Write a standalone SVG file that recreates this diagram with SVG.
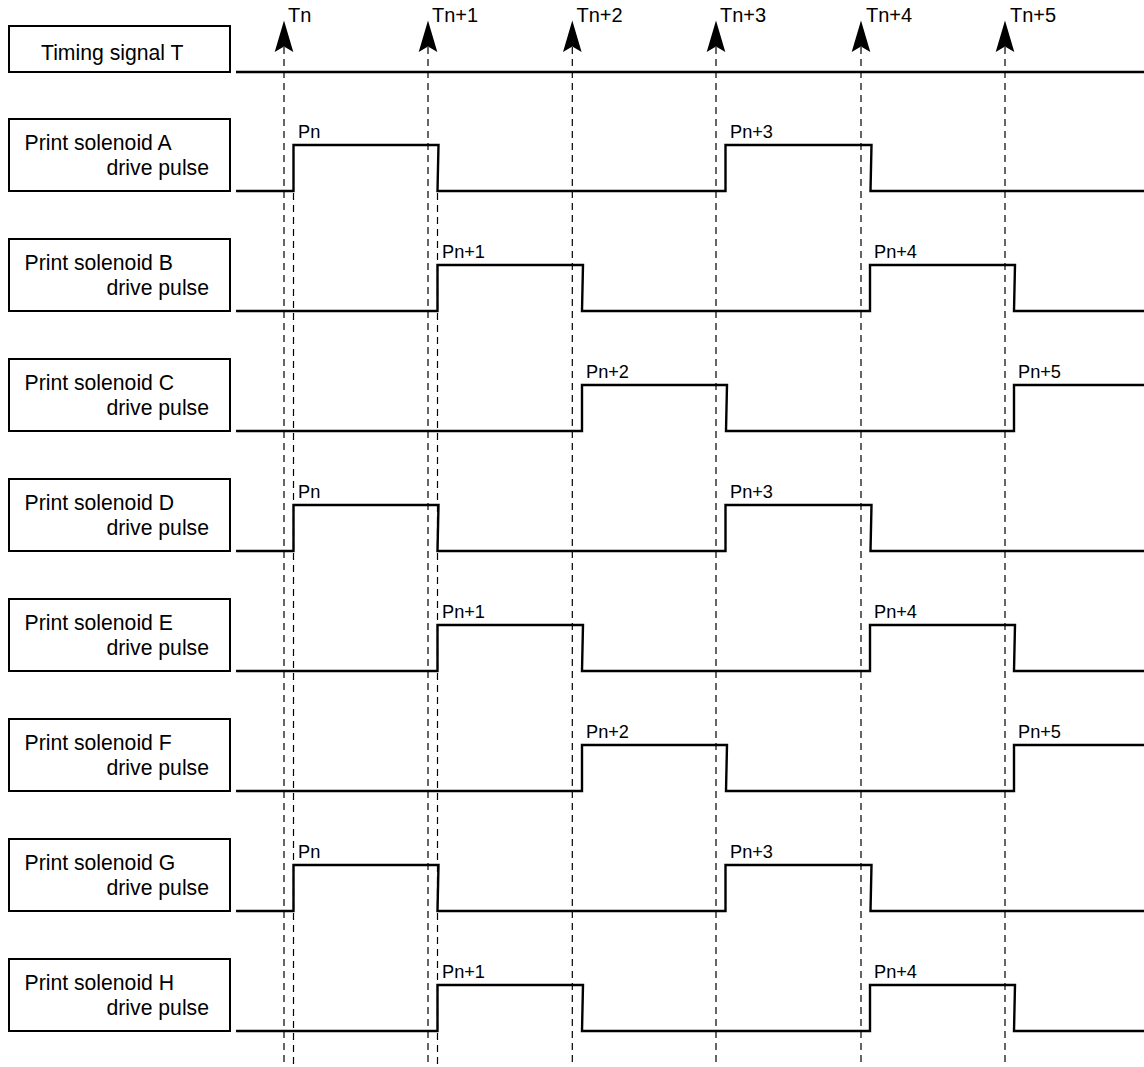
<svg xmlns="http://www.w3.org/2000/svg" width="1144" height="1067" viewBox="0 0 1144 1067">
<style>
.box{fill:#fff;stroke:#000;stroke-width:2}
.lbl{font-family:"Liberation Sans",Arial,sans-serif;font-size:21.2px;fill:#000}
.tl{font-family:"Liberation Sans",Arial,sans-serif;font-size:20px;fill:#000}
.pl{font-family:"Liberation Sans",Arial,sans-serif;font-size:18.2px;fill:#000}
.wave{fill:none;stroke:#000;stroke-width:2.4}
.dash{fill:none;stroke:#000;stroke-width:1.2;stroke-dasharray:7,5}
.arr{fill:#000}
</style>
<rect width="1144" height="1067" fill="#fff"/>
<g id="connectors">
  <g id="timing-lines">
    <line class="dash" x1="284" y1="47" x2="284" y2="1067"/>
    <line class="dash" x1="428" y1="47" x2="428" y2="1067"/>
    <line class="dash" x1="572.3" y1="47" x2="572.3" y2="1067"/>
    <line class="dash" x1="716" y1="47" x2="716" y2="1067"/>
    <line class="dash" x1="861" y1="47" x2="861" y2="1067"/>
    <line class="dash" x1="1005" y1="47" x2="1005" y2="1067"/>
    <line class="dash" x1="293.5" y1="193" x2="293.5" y2="1067"/>
    <line class="dash" x1="437.5" y1="193" x2="437.5" y2="1067"/>
  </g>
  <g id="arrows">
    <path class="arr" d="M284,20.5 L293.3,52 L284,46.5 L274.7,52 Z"/>
    <path class="arr" d="M428,20.5 L437.3,52 L428,46.5 L418.7,52 Z"/>
    <path class="arr" d="M572.3,20.5 L581.6,52 L572.3,46.5 L563,52 Z"/>
    <path class="arr" d="M716,20.5 L725.3,52 L716,46.5 L706.7,52 Z"/>
    <path class="arr" d="M861,20.5 L870.3,52 L861,46.5 L851.7,52 Z"/>
    <path class="arr" d="M1005,20.5 L1014.3,52 L1005,46.5 L995.7,52 Z"/>
  </g>
</g>
<g id="timing-labels">
  <text class="tl" x="288" y="22">Tn</text>
  <text class="tl" x="432" y="22">Tn+1</text>
  <text class="tl" x="576.5" y="22">Tn+2</text>
  <text class="tl" x="720" y="22">Tn+3</text>
  <text class="tl" x="866" y="22">Tn+4</text>
  <text class="tl" x="1010" y="22">Tn+5</text>
</g>
<g id="node-T">
  <rect class="box" x="9" y="26" width="221" height="46"/>
  <text class="lbl" x="41" y="59.5">Timing signal T</text>
  <line class="wave" x1="236" y1="72" x2="1144" y2="72"/>
</g>
<g id="node-A">
  <rect class="box" x="9" y="119" width="221" height="72"/>
  <text class="lbl" x="24.5" y="150">Print solenoid A</text>
  <text class="lbl" x="209" y="174.5" text-anchor="end">drive pulse</text>
  <path class="wave" d="M236,191 H293.5 V145 H438.5 L437.5,191 H725.5 V145 H871.5 L870.5,191 H1144"/>
  <text class="pl" x="298" y="138">Pn</text>
  <text class="pl" x="730" y="138">Pn+3</text>
</g>
<g id="node-B" transform="translate(0,120)">
  <rect class="box" x="9" y="119" width="221" height="72"/>
  <text class="lbl" x="24.5" y="150">Print solenoid B</text>
  <text class="lbl" x="209" y="174.5" text-anchor="end">drive pulse</text>
  <path class="wave" d="M236,191 H437.5 V145 H583 L582,191 H870 V145 H1015 L1014,191 H1144"/>
  <text class="pl" x="442" y="138">Pn+1</text>
  <text class="pl" x="874" y="138">Pn+4</text>
</g>
<g id="node-C" transform="translate(0,240)">
  <rect class="box" x="9" y="119" width="221" height="72"/>
  <text class="lbl" x="24.5" y="150">Print solenoid C</text>
  <text class="lbl" x="209" y="174.5" text-anchor="end">drive pulse</text>
  <path class="wave" d="M236,191 H582 V145 H727 L726,191 H1014 V145 H1144"/>
  <text class="pl" x="586" y="138">Pn+2</text>
  <text class="pl" x="1018" y="138">Pn+5</text>
</g>
<g id="node-D" transform="translate(0,360)">
  <rect class="box" x="9" y="119" width="221" height="72"/>
  <text class="lbl" x="24.5" y="150">Print solenoid D</text>
  <text class="lbl" x="209" y="174.5" text-anchor="end">drive pulse</text>
  <path class="wave" d="M236,191 H293.5 V145 H438.5 L437.5,191 H725.5 V145 H871.5 L870.5,191 H1144"/>
  <text class="pl" x="298" y="138">Pn</text>
  <text class="pl" x="730" y="138">Pn+3</text>
</g>
<g id="node-E" transform="translate(0,480)">
  <rect class="box" x="9" y="119" width="221" height="72"/>
  <text class="lbl" x="24.5" y="150">Print solenoid E</text>
  <text class="lbl" x="209" y="174.5" text-anchor="end">drive pulse</text>
  <path class="wave" d="M236,191 H437.5 V145 H583 L582,191 H870 V145 H1015 L1014,191 H1144"/>
  <text class="pl" x="442" y="138">Pn+1</text>
  <text class="pl" x="874" y="138">Pn+4</text>
</g>
<g id="node-F" transform="translate(0,600)">
  <rect class="box" x="9" y="119" width="221" height="72"/>
  <text class="lbl" x="24.5" y="150">Print solenoid F</text>
  <text class="lbl" x="209" y="174.5" text-anchor="end">drive pulse</text>
  <path class="wave" d="M236,191 H582 V145 H727 L726,191 H1014 V145 H1144"/>
  <text class="pl" x="586" y="138">Pn+2</text>
  <text class="pl" x="1018" y="138">Pn+5</text>
</g>
<g id="node-G" transform="translate(0,720)">
  <rect class="box" x="9" y="119" width="221" height="72"/>
  <text class="lbl" x="24.5" y="150">Print solenoid G</text>
  <text class="lbl" x="209" y="174.5" text-anchor="end">drive pulse</text>
  <path class="wave" d="M236,191 H293.5 V145 H438.5 L437.5,191 H725.5 V145 H871.5 L870.5,191 H1144"/>
  <text class="pl" x="298" y="138">Pn</text>
  <text class="pl" x="730" y="138">Pn+3</text>
</g>
<g id="node-H" transform="translate(0,840)">
  <rect class="box" x="9" y="119" width="221" height="72"/>
  <text class="lbl" x="24.5" y="150">Print solenoid H</text>
  <text class="lbl" x="209" y="174.5" text-anchor="end">drive pulse</text>
  <path class="wave" d="M236,191 H437.5 V145 H583 L582,191 H870 V145 H1015 L1014,191 H1144"/>
  <text class="pl" x="442" y="138">Pn+1</text>
  <text class="pl" x="874" y="138">Pn+4</text>
</g>
</svg>
